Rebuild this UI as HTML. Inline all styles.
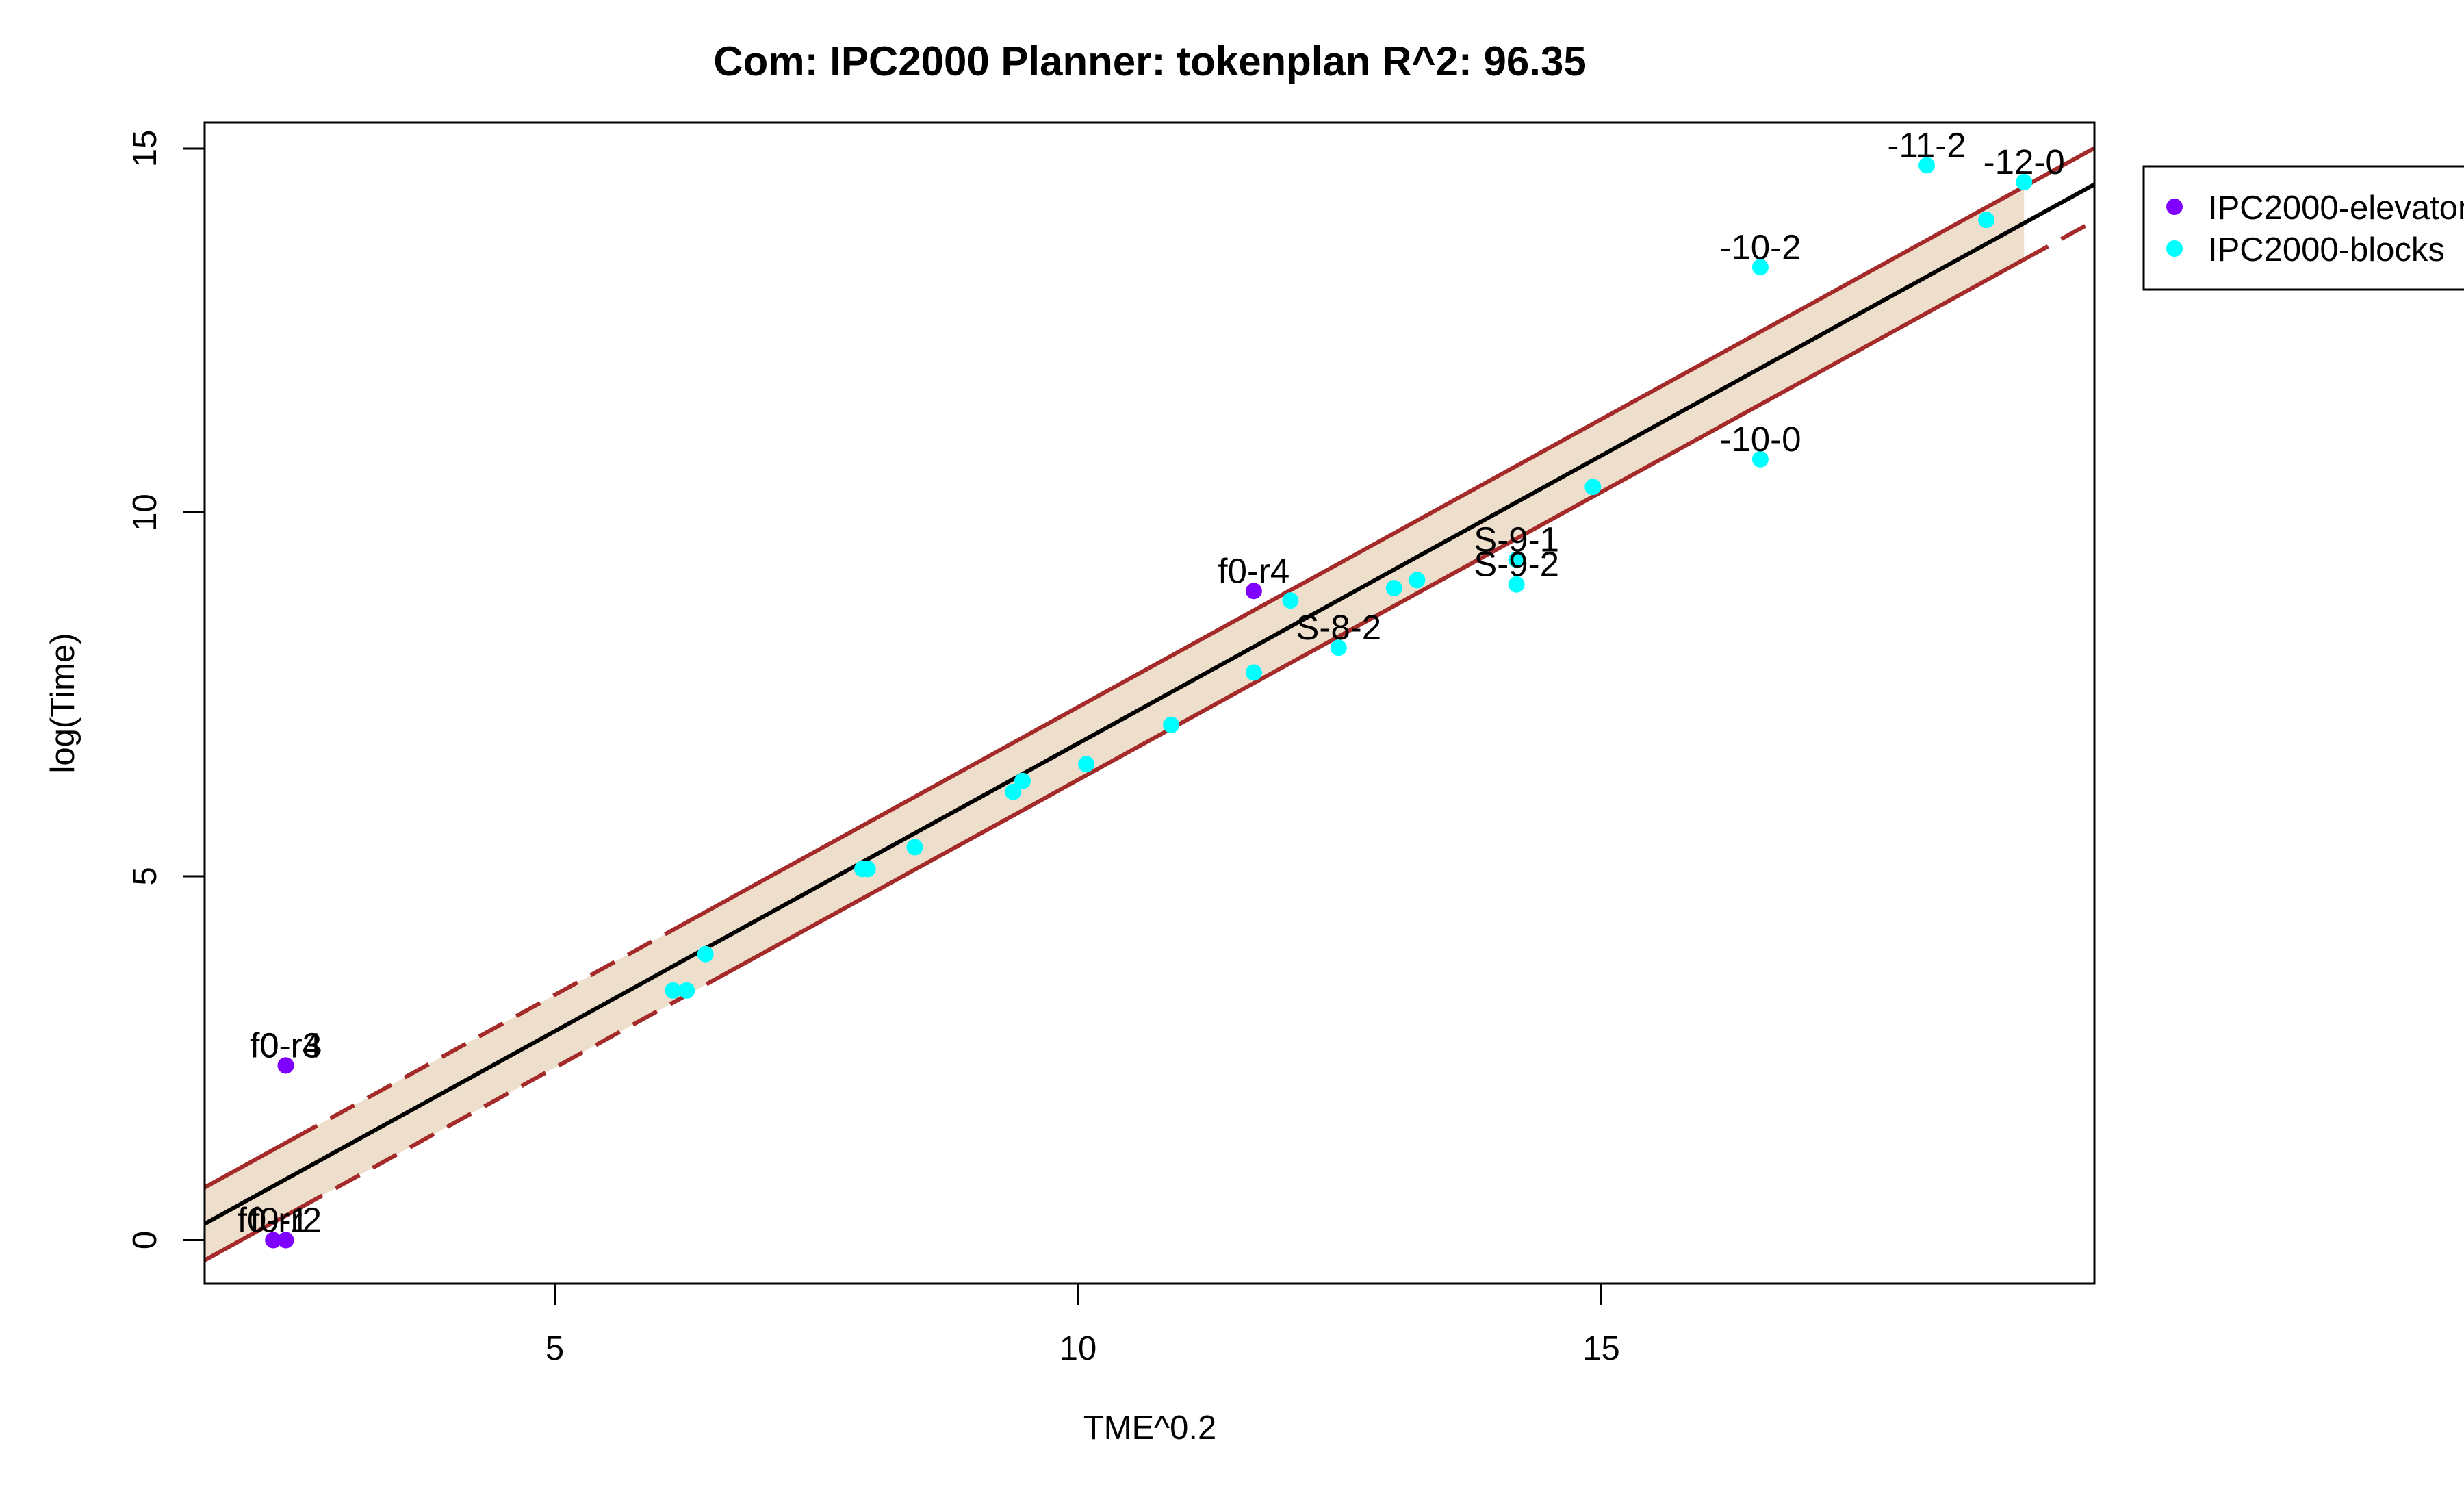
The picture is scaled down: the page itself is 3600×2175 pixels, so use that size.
<!DOCTYPE html>
<html><head><meta charset="utf-8"><style>
html,body{margin:0;padding:0;background:#fff;}
svg{display:block;font-family:"Liberation Sans",Arial,sans-serif;}
</style></head><body>
<svg id="chart" width="3600" height="2175" viewBox="0 0 3600 2175" xmlns="http://www.w3.org/2000/svg">
<text x="1680" y="110" text-anchor="middle" font-size="60" font-weight="bold">Com: IPC2000 Planner: tokenplan R^2: 96.35</text>
<text x="1680" y="2102" text-anchor="middle" font-size="49">TME^0.2</text>
<text x="0" y="0" transform="translate(108,1027) rotate(-90)" text-anchor="middle" font-size="49">log(Time)</text>
<g id="band"></g>
<g id="lines"></g>
<g id="pts"></g>
<g id="axes"></g>
<rect x="299" y="179" width="2761" height="1696" fill="none" stroke="#000" stroke-width="3"/>
<g>
<rect x="3132" y="243" width="520" height="180" fill="#fff" stroke="#000" stroke-width="3"/>
<circle cx="3177" cy="302" r="12" fill="#7f00ff"/>
<text x="3226" y="320" font-size="49">IPC2000-elevator</text>
<circle cx="3177" cy="363" r="12" fill="#00ffff"/>
<text x="3226" y="381" font-size="49">IPC2000-blocks</text>
</g>
</svg>
<script>
const xTicks=[5,10,15];
const yTicks=[0,5,10,15];
const fitIntercept=-1.085;
const fitSlope=0.791;
const bandHalf=0.5;
const elevX=[2.43,2.43,2.31,2.43,11.68];
const elevY=[2.40,2.40,0,0,8.92];
const elevLabels=["f0-r3","f0-r4","f0-r1","f0-r2","f0-r4"];
const blockX=[6.13,6.26,6.44,7.94,7.99,8.44,9.38,9.47,10.08,10.89,11.68,12.03,12.49,13.02,13.24,14.19,14.19,14.92,16.52,16.52,18.11,18.68,19.04];
const blockY=[3.43,3.43,3.93,5.10,5.10,5.40,6.16,6.31,6.54,7.08,7.80,8.79,8.14,8.96,9.07,9.35,9.01,10.35,10.73,13.37,14.77,14.02,14.54];
const blockLabels=["","","","","","","","","","","","","S-8-2","","","S-9-1","S-9-2","","-10-0","-10-2","-11-2","","-12-0"];

const NS="http://www.w3.org/2000/svg";
const X0=299,X1=3060,Y0=179,Y1=1875;
function sx(v){return 810.5+(v-5)*152.9;}
function sy(v){return 1811.5-v*106.3;}
const xmin=(X0-810.5)/152.9+5, xmax=(X1-810.5)/152.9+5;
const dataMax=Math.max(...blockX,...elevX);
function mk(tag,attrs,parent){const e=document.createElementNS(NS,tag);for(const k in attrs)e.setAttribute(k,attrs[k]);parent.appendChild(e);return e;}
function fit(x){return fitIntercept+fitSlope*x;}

const band=document.getElementById('band');
const bp=mk('polygon',{points:[[sx(xmin),sy(fit(xmin)+bandHalf)],[sx(dataMax),sy(fit(dataMax)+bandHalf)],[sx(dataMax),sy(fit(dataMax)-bandHalf)],[sx(xmin),sy(fit(xmin)-bandHalf)]].map(p=>p.join(',')).join(' '),fill:'#eedfcc'},band);



const lines=document.getElementById('lines');
function seg(a,b,off,dash,name){
  const l=mk('line',{x1:sx(a),y1:sy(fit(a)+off),x2:sx(b),y2:sy(fit(b)+off),stroke:'#a52a2a','stroke-width':6},lines);
  if(dash)l.setAttribute('stroke-dasharray','40 22');
  
  
}
seg(xmin,2.5,bandHalf,false,'upper-bound');
seg(2.5,6.2,bandHalf,true,'upper-bound-dashed');
seg(6.2,xmax,bandHalf,false,'upper-bound');
seg(xmin,2.55,-bandHalf,false,'lower-bound');
seg(2.55,6.45,-bandHalf,true,'lower-bound-dashed');
seg(6.45,dataMax,-bandHalf,false,'lower-bound');
seg(dataMax,xmax,-bandHalf,true,'lower-bound-dashed');
const fl=mk('line',{x1:sx(xmin),y1:sy(fit(xmin)),x2:sx(xmax),y2:sy(fit(xmax)),stroke:'#000','stroke-width':6},lines);



const pts=document.getElementById('pts');
function drawPts(xs,ys,labels,color,nm){
  xs.forEach((x,i)=>{
    const c=mk('circle',{cx:sx(x),cy:sy(ys[i]),r:12,fill:color},pts);
    
    
    if(labels[i]){
      const t=mk('text',{x:sx(x),y:sy(ys[i])-12,'text-anchor':'middle','font-size':51},pts);
      t.textContent=labels[i];
      
      
    }
  });
}
drawPts(blockX,blockY,blockLabels,'#00ffff','blocks');
drawPts(elevX,elevY,elevLabels,'#7f00ff','elevator');

const axes=document.getElementById('axes');
xTicks.forEach(v=>{
  const l=mk('line',{x1:sx(v),y1:Y1,x2:sx(v),y2:Y1+31,stroke:'#000','stroke-width':3},axes);
  
  
  const t=mk('text',{x:sx(v),y:1986,'text-anchor':'middle','font-size':49},axes);
  t.textContent=v;
  
  
});
yTicks.forEach(v=>{
  const l=mk('line',{x1:X0,y1:sy(v),x2:X0-31,y2:sy(v),stroke:'#000','stroke-width':3},axes);
  
  
  const t=mk('text',{x:0,y:0,transform:`translate(228,${sy(v)}) rotate(-90)`,'text-anchor':'middle','font-size':49},axes);
  t.textContent=v;
  
  
});
</script>
</body></html>
